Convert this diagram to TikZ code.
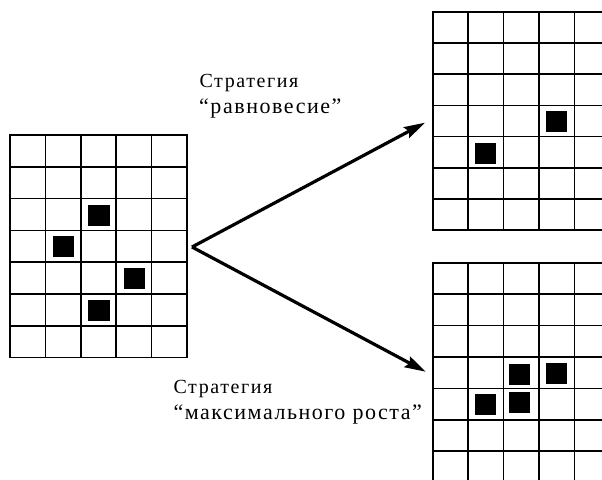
\documentclass[tikz,border=0pt]{standalone}
\usepackage{fontspec}
\setmainfont{Liberation Serif}[LetterSpace=8]
\usetikzlibrary{arrows.meta}
\tikzset{
  gridline/.style={line width=1.6pt, line cap=rect},
  cellmark/.style={fill=black, draw=none, minimum width=21.5pt, minimum height=21pt, inner sep=0pt},
  bigarrow/.style={line width=3.2pt, -{Stealth[length=21pt,width=12pt,inset=3pt]}},
  lbl/.style={anchor=base west, inner sep=0pt, font=\fontsize{20}{26}\selectfont},
  lblq/.style={anchor=base west, inner sep=0pt, font=\fontsize{22}{26}\selectfont\addfontfeatures{LetterSpace=7}}
}
\begin{document}
\begin{tikzpicture}[x=1pt,y=-1pt]
\useasboundingbox (0,0) rectangle (602,479);
\fill[white] (0,0) rectangle (602,479);
% left grid 5x7
\def\lx{10}\def\ly{135}\def\lw{35.35}\def\lh{31.8}
\foreach \i in {0,...,5} \draw[gridline] ({\lx+\i*\lw},\ly) -- ({\lx+\i*\lw},{\ly+7*\lh});
\foreach \j in {0,...,7} \draw[gridline] (\lx,{\ly+\j*\lh}) -- ({\lx+5*\lw},{\ly+\j*\lh});
\node[cellmark] (l1) at (99,215.3) {};
\node[cellmark] (l2) at (63.6,246.8) {};
\node[cellmark] (l3) at (134.3,278.6) {};
\node[cellmark] (l4) at (99,310.4) {};
% right grids
\def\rx{432.7}\def\rw{35.4}
\def\ty{11.7}\def\th{31.2}
\def\by{262.7}\def\bh{31.4}
\begin{scope}
\clip (0,0) rectangle (602,479);
\foreach \i in {0,...,5} \draw[gridline] ({\rx+\i*\rw},\ty) -- ({\rx+\i*\rw},{\ty+7*\th});
\foreach \j in {0,...,7} \draw[gridline] (\rx,{\ty+\j*\th}) -- (610,{\ty+\j*\th});
\foreach \i in {0,...,5} \draw[gridline] ({\rx+\i*\rw},\by) -- ({\rx+\i*\rw},485);
\foreach \j in {0,...,6} \draw[gridline] (\rx,{\by+\j*\bh}) -- (610,{\by+\j*\bh});
\end{scope}
\node[cellmark] (t1) at (556.5,121.5) {};
\node[cellmark] (t2) at (485.7,153.2) {};
\node[cellmark] (b1) at (519.3,374.2) {};
\node[cellmark] (b2) at (556.5,373.3) {};
\node[cellmark] (b3) at (485.7,404.2) {};
\node[cellmark] (b4) at (519.3,402.5) {};
% arrows
\coordinate (src) at (192,247);
\coordinate (dstA) at (425,122.7);
\coordinate (dstB) at (425.7,371.7);
\draw[bigarrow] (src) -- (dstA);
\draw[bigarrow] (src) -- (dstB);
% labels
\node[lbl] (la1) at (199.3,87.5) {Стратегия};
\node[lblq] (la2) at (199,113.2) {“равновесие”};
\node[lbl] (lb1) at (173.3,393.7) {Стратегия};
\node[lblq] (lb2) at (173.3,419.8) {“максимального роста”};
\end{tikzpicture}
\end{document}
